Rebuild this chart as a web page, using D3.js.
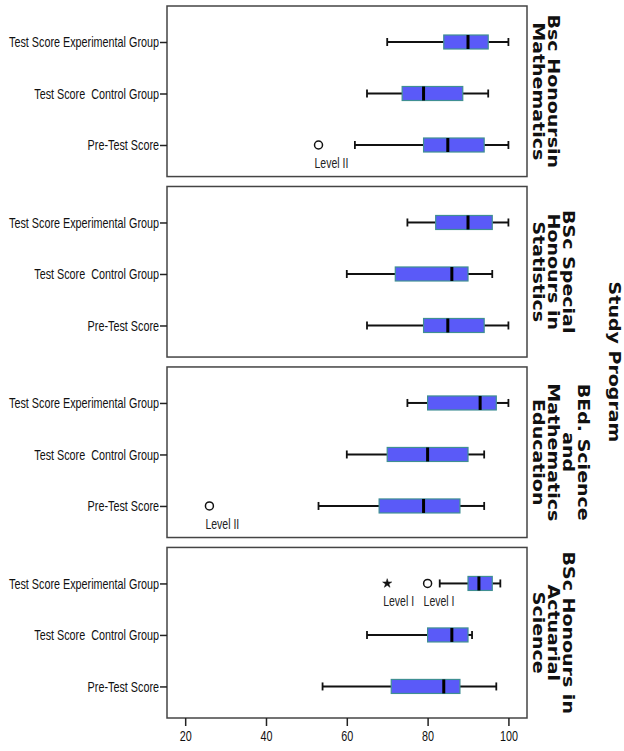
<!DOCTYPE html>
<html>
<head>
<meta charset="utf-8">
<script src="https://cdn.jsdelivr.net/npm/d3@7"></script>
<style>
body { margin: 0; background: #fff; }
text { white-space: pre; }
</style>
</head>
<body>
<script>
// categories on the y axis of every panel
var categories = ["Test Score Experimental Group", "Test Score  Control Group", "Pre-Test Score"];

// panel titles, one list of lines per study program
var programs = [
  ["Bsc Honoursin", "Mathematics"],
  ["BSc Special", "Honours in", "Statistics"],
  ["BEd. Science", "and", "Mathematics", "Education"],
  ["BSc Honours in", "Actuarial", "Science"]
];

// [min, q1, median, q3, max] per category
var mathScores = [[70, 84, 90, 95, 100], [65, 73.7, 79, 88.7, 95], [62, 79, 85, 94, 100]];
var statScores = [[75, 82, 90, 96, 100], [60, 72, 86, 90, 96], [65, 79, 85, 94, 100]];
var eduScores = [[75, 80, 93, 97, 100], [60, 70, 80, 90, 94], [53, 68, 79, 88, 94]];
var actScores = [[83, 90, 92.7, 96, 98], [65, 80, 86, 90, 91], [54, 71, 84, 88, 97]];
var allScores = [mathScores, statScores, eduScores, actScores];

// outliers
var outlierProgram = [0, 2, 3, 3];
var outlierCategory = [2, 2, 0, 0];
var outlierValue = [53, 26, 70, 80];
var outlierShape = ["circle", "circle", "star", "circle"];
var outlierLabel = ["Level II", "Level II", "Level I", "Level I"];

var xTicks = [20, 40, 60, 80, 100];

var w = 624;
var h = 751;
var squeeze = 0.75;
var titleSqueeze = 0.85;

var svg = d3.select("body")
  .append("svg")
  .attr("width", w)
  .attr("height", h);

var x = d3.scaleLinear()
  .domain([15.5, 104.6])
  .range([167, 527]);

var panelY = d3.scaleBand()
  .domain(d3.range(programs.length))
  .range([6, 718])
  .paddingInner(0.055);

var rowY = d3.scalePoint()
  .domain(categories)
  .range([36, 139]);

var bw = panelY.bandwidth();
var boxH = 14;

programs.forEach(function(lines, p) {
  var g = svg.append("g")
    .attr("transform", "translate(0," + panelY(p) + ")");

  g.append("rect")
    .attr("x", x.range()[0])
    .attr("y", 0)
    .attr("width", x.range()[1] - x.range()[0])
    .attr("height", bw)
    .attr("fill", "none")
    .attr("stroke", "#444")
    .attr("stroke-width", 1.5);

  var yAxis = g.append("g")
    .attr("transform", "translate(" + x.range()[0] + ",0)")
    .call(d3.axisLeft(rowY).tickSize(7).tickSizeOuter(0));
  yAxis.select(".domain").remove();
  yAxis.selectAll("line").attr("stroke", "#222").attr("stroke-width", 1.5);
  yAxis.selectAll("text")
    .attr("x", -8 / squeeze)
    .attr("transform", "scale(" + squeeze + ",1)")
    .attr("font-family", "Liberation Sans, Arial, sans-serif")
    .attr("font-size", "14.4px")
    .attr("fill", "#111");

  var data = allScores[p];
  var rows = g.selectAll(".row")
    .data(data)
    .enter()
    .append("g")
    .attr("class", "row")
    .attr("transform", function(d, i) {
      return "translate(0," + rowY(categories[i]) + ")";
    });

  // whiskers
  rows.append("line")
    .attr("x1", function(d) { return x(d[0]); })
    .attr("x2", function(d) { return x(d[1]); })
    .attr("stroke", "#111")
    .attr("stroke-width", 2);
  rows.append("line")
    .attr("x1", function(d) { return x(d[3]); })
    .attr("x2", function(d) { return x(d[4]); })
    .attr("stroke", "#111")
    .attr("stroke-width", 2);

  // caps
  [0, 4].forEach(function(k) {
    rows.append("line")
      .attr("x1", function(d) { return x(d[k]); })
      .attr("x2", function(d) { return x(d[k]); })
      .attr("y1", -4)
      .attr("y2", 4)
      .attr("stroke", "#111")
      .attr("stroke-width", 1.8);
  });

  // box
  rows.append("rect")
    .attr("x", function(d) { return x(d[1]); })
    .attr("y", -boxH / 2)
    .attr("width", function(d) { return x(d[3]) - x(d[1]); })
    .attr("height", boxH)
    .attr("fill", "#5a5af8")
    .attr("stroke", "#3f8f93")
    .attr("stroke-width", 1.2);

  // median
  rows.append("line")
    .attr("x1", function(d) { return x(d[2]); })
    .attr("x2", function(d) { return x(d[2]); })
    .attr("y1", -boxH / 2)
    .attr("y2", boxH / 2)
    .attr("stroke", "#000")
    .attr("stroke-width", 3);

  // title lines, rotated
  lines.forEach(function(line, i) {
    g.append("text")
      .text(line)
      .attr("transform", "translate(" + (539 + (lines.length - 1 - i) * 15) + "," + (bw / 2) + ") scale(" + titleSqueeze + ",1) rotate(90)")
      .attr("dy", "0.35em")
      .attr("text-anchor", "middle")
      .attr("font-family", "DejaVu Sans, Verdana, sans-serif")
      .attr("font-weight", "bold")
      .attr("font-size", "19px")
      .attr("fill", "#111");
  });
});

// outliers
var outG = svg.selectAll(".outlier")
  .data(outlierValue)
  .enter()
  .append("g")
  .attr("class", "outlier")
  .attr("transform", function(d, i) {
    return "translate(" + x(d) + "," + (panelY(outlierProgram[i]) + rowY(categories[outlierCategory[i]])) + ")";
  });

outG.append("path")
  .attr("d", function(d, i) {
    if (outlierShape[i] == "star") {
      return d3.symbol().type(d3.symbolStar).size(26)();
    }
    return d3.symbol().type(d3.symbolCircle).size(50)();
  })
  .attr("fill", function(d, i) { return outlierShape[i] == "star" ? "#111" : "#fff"; })
  .attr("stroke", "#111")
  .attr("stroke-width", function(d, i) { return outlierShape[i] == "star" ? 0.5 : 1.5; });

outG.append("text")
  .text(function(d, i) { return outlierLabel[i]; })
  .attr("transform", "translate(-4,23) scale(" + squeeze + ",1)")
  .attr("font-family", "Liberation Sans, Arial, sans-serif")
  .attr("font-size", "14px")
  .attr("fill", "#222");

// x axis
var xAxis = svg.append("g")
  .attr("transform", "translate(0," + (panelY(programs.length - 1) + bw) + ")")
  .call(d3.axisBottom(x).tickValues(xTicks).tickSize(8).tickSizeOuter(0).tickPadding(5));
xAxis.select(".domain").remove();
xAxis.selectAll("line").attr("stroke", "#222").attr("stroke-width", 1.5);
xAxis.selectAll("text")
  .attr("transform", "scale(" + squeeze + ",1)")
  .attr("font-family", "Liberation Sans, Arial, sans-serif")
  .attr("font-size", "14.4px")
  .attr("fill", "#111");

// overall title
svg.append("text")
  .text("Study Program")
  .attr("transform", "translate(615,362) scale(" + titleSqueeze + ",1) rotate(90)")
  .attr("dy", "0.35em")
  .attr("text-anchor", "middle")
  .attr("font-family", "DejaVu Sans, Verdana, sans-serif")
  .attr("font-weight", "bold")
  .attr("font-size", "19px")
  .attr("fill", "#111");
</script>
</body>
</html>
